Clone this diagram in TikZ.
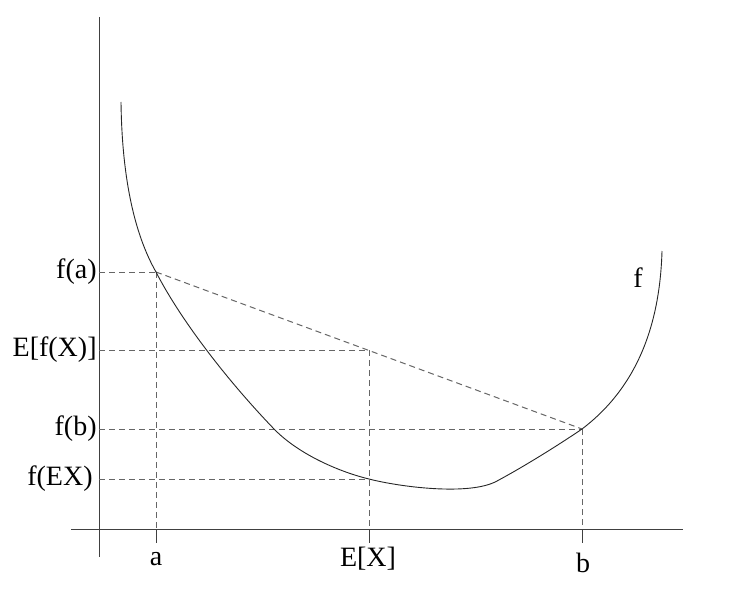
\documentclass[tikz,border=0pt]{standalone}
\usepackage{fontspec}
\setmainfont{Liberation Serif}
\begin{document}
\begin{tikzpicture}[x=0.5pt,y=-0.5pt,
  axis/.style={draw=black!75, line width=0.5pt},
  guide/.style={draw=black!60, line width=0.5pt, dash pattern=on 3pt off 2pt},
  curve/.style={draw=black!85, line width=0.45pt},
  lbl/.style={font=\fontsize{14}{16}\selectfont, inner sep=0pt}]
\useasboundingbox (0,0) rectangle (742,588);
% axes
\coordinate (yt) at (99,17);
\coordinate (yb) at (99,557);
\coordinate (xl) at (71,529);
\coordinate (xr) at (683,529);
\draw[axis] (yt) -- (yb);
\draw[axis] (xl) -- (xr);
% key points
\coordinate (c0) at (121,102);
\coordinate (pa) at (156,272);
\coordinate (k1) at (275,430);
\coordinate (pe) at (369,479);
\coordinate (k2) at (497,481);
\coordinate (pb) at (582,429);
\coordinate (c1) at (662,251);
\coordinate (pm) at (369,350);
\coordinate (ya) at (99,272);
\coordinate (ym) at (99,350);
\coordinate (yb2) at (99,429);
\coordinate (ye) at (99,479);
\coordinate (xa) at (156,529);
\coordinate (xm) at (369,529);
\coordinate (xb) at (582,529);
\coordinate (ta) at (156,543);
\coordinate (tm) at (369,543);
\coordinate (tb) at (582,543);
% guides
\draw[guide] (ya) -- (pa);
\draw[guide] (pa) -- (pb);
\draw[guide] (ym) -- (pm);
\draw[guide] (yb2) -- (pb);
\draw[guide] (ye) -- (pe);
\draw[guide] (pa) -- (xa);
\draw[guide] (pm) -- (xm);
\draw[guide] (pb) -- (xb);
% ticks
\draw[axis] (xa) -- (ta);
\draw[axis] (xm) -- (tm);
\draw[axis] (xb) -- (tb);
% curve
\draw[curve] (c0) .. controls (122,180) and (135,235) .. (pa)
  .. controls (178,315) and (222,375) .. (k1)
  .. controls (300,455) and (340,472) .. (pe)
  .. controls (400,487) and (470,496) .. (k2)
  .. controls (525,466) and (560,444) .. (pb)
  .. controls (640,385) and (660,320) .. (c1);
% labels
\node[lbl, anchor=east] (lfa) at (97,272) {f(a)};
\node[lbl, anchor=east] (lefx) at (97,350) {E[f(X)]};
\node[lbl, anchor=east] (lfb) at (97,429) {f(b)};
\node[lbl, anchor=east] (lfex) at (93,479) {f(EX)};
\node[lbl, anchor=base] (la) at (156,565) {a};
\node[lbl, anchor=base] (lex) at (368,566) {E[X]};
\node[lbl, anchor=base] (lb) at (583,572) {b};
\node[lbl] (lf) at (638,278) {f};
\end{tikzpicture}
\end{document}
